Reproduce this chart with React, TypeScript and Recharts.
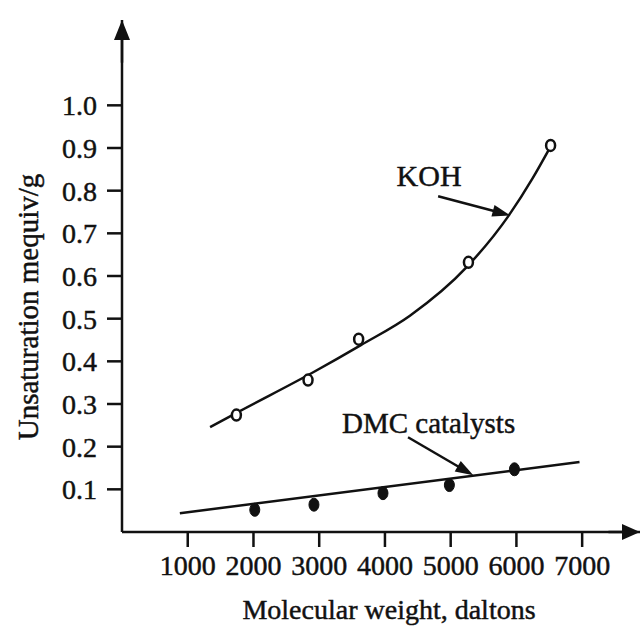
import React from 'react';
import { ComposedChart, Line, Scatter, XAxis, YAxis, ReferenceLine, ReferenceDot } from 'recharts';

// ---- data ----
const xTicks = [1000, 2000, 3000, 4000, 5000, 6000, 7000];
const yTicks = [0.1, 0.2, 0.3, 0.4, 0.5, 0.6, 0.7, 0.8, 0.9, 1.0];
const xAxisMax = 7880;
const yAxisMax = 1.2;

const kohCurveX = [1340, 1800, 2916, 3634, 4380, 5250, 5880, 6250, 6500];
const kohCurveY = [0.246, 0.284, 0.375, 0.438, 0.507, 0.622, 0.741, 0.83, 0.898];
const kohPointX = [1740, 2830, 3600, 5270, 6520];
const kohPointY = [0.274, 0.356, 0.452, 0.632, 0.906];

const dmcLineX = [880, 6960];
const dmcLineY = [0.044, 0.164];
const dmcPointX = [2020, 2920, 3970, 4980, 5970];
const dmcPointY = [0.052, 0.064, 0.091, 0.11, 0.147];

const kohLabel = { text: 'KOH', x: 4672, y: 0.81 };
const kohArrow = { x1: 4809, y1: 0.787, x2: 5908, y2: 0.742 };
const dmcLabel = { text: 'DMC catalysts', x: 4664, y: 0.232 };
const dmcArrow = { x1: 4351, y1: 0.222, x2: 5344, y2: 0.133 };

const xTitle = 'Molecular weight, daltons';
const yTitle = 'Unsaturation mequiv/g';

// ---- helpers ----
const zip = (xs: number[], ys: number[]) => xs.map((x, i) => ({ x, y: ys[i] }));
const kohCurve = zip(kohCurveX, kohCurveY);
const kohPoints = zip(kohPointX, kohPointY);
const dmcLine = zip(dmcLineX, dmcLineY);
const dmcPoints = zip(dmcPointX, dmcPointY);

const FONT = '"Liberation Serif", "Times New Roman", serif';
const INK = '#111';
const TEXT_STROKE = 0.45;

const arrowShape = (head: number, half: number, width: number) => (p: any) => {
  const { x1, y1, x2, y2 } = p;
  const dx = x2 - x1;
  const dy = y2 - y1;
  const len = Math.hypot(dx, dy) || 1;
  const ux = dx / len;
  const uy = dy / len;
  const bx = x2 - ux * head;
  const by = y2 - uy * head;
  const px = -uy * half;
  const py = ux * half;
  return (
    <g>
      <line x1={x1} y1={y1} x2={bx + ux * 2} y2={by + uy * 2} stroke={INK} strokeWidth={width} />
      <polygon points={`${x2},${y2} ${bx + px},${by + py} ${bx - px},${by - py}`} fill={INK} />
    </g>
  );
};

const openCircle = (p: any) => (
  <ellipse cx={p.cx} cy={p.cy} rx={4.5} ry={5.5} fill="#fff" stroke={INK} strokeWidth={2.5} />
);
const filledCircle = (p: any) => (
  <ellipse cx={p.cx} cy={p.cy} rx={5} ry={6.5} fill={INK} stroke={INK} strokeWidth={1} />
);

const textShape = (text: string, size: number) => (p: any) => (
  <text
    x={p.cx}
    y={p.cy}
    textAnchor="middle"
    fontFamily={FONT}
    fontSize={size}
    fill={INK}
    stroke={INK}
    strokeWidth={TEXT_STROKE}
  >
    {text}
  </text>
);

const YTitle = (props: any) => {
  const vb = props.viewBox || { x: 0, y: 0, width: 0, height: 0 };
  const cx = vb.x + 28;
  const cy = vb.y + vb.height / 2 + 31;
  return (
    <text
      x={cx}
      y={cy}
      transform={`rotate(-90, ${cx}, ${cy})`}
      textAnchor="middle"
      dominantBaseline="central"
      fontFamily={FONT}
      fontSize={29}
      fill={INK}
      stroke={INK}
      strokeWidth={TEXT_STROKE}
    >
      {yTitle}
    </text>
  );
};

const XTitle = (props: any) => {
  const vb = props.viewBox || { x: 0, y: 0, width: 0, height: 0 };
  const cx = vb.x + vb.width / 2 + 8;
  const cy = vb.y + vb.height - 7;
  return (
    <text
      x={cx}
      y={cy}
      textAnchor="middle"
      fontFamily={FONT}
      fontSize={28}
      fill={INK}
      stroke={INK}
      strokeWidth={TEXT_STROKE}
    >
      {xTitle}
    </text>
  );
};

const tickStyle = { fill: INK, fontFamily: FONT, fontSize: 28, stroke: INK, strokeWidth: TEXT_STROKE };

export default function App() {
  return (
    <div style={{ position: 'absolute', left: 0, top: 0, background: '#fff' }}>
      <ComposedChart width={641} height={626} margin={{ top: 20, right: 1, bottom: 0, left: 0 }}>
        <XAxis
          dataKey="x"
          type="number"
          domain={[0, xAxisMax]}
          ticks={xTicks}
          allowDataOverflow
          height={94}
          tickSize={15}
          tickMargin={8}
          axisLine={{ stroke: INK, strokeWidth: 2.5 }}
          tickLine={{ stroke: INK, strokeWidth: 2.5 }}
          tick={tickStyle}
          label={<XTitle />}
        />
        <YAxis
          dataKey="y"
          type="number"
          domain={[0, yAxisMax]}
          ticks={yTicks}
          allowDataOverflow
          width={122}
          tickSize={15}
          tickMargin={10}
          tickFormatter={(v: number) => v.toFixed(1)}
          axisLine={{ stroke: INK, strokeWidth: 2.5 }}
          tickLine={{ stroke: INK, strokeWidth: 2.5 }}
          tick={tickStyle}
          label={<YTitle />}
        />
        <ReferenceLine
          segment={[{ x: 0, y: 1.1 }, { x: 0, y: yAxisMax }]}
          ifOverflow="visible"
          shape={arrowShape(20, 8, 2.5)}
        />
        <ReferenceLine
          segment={[{ x: 7400, y: 0 }, { x: xAxisMax, y: 0 }]}
          ifOverflow="visible"
          shape={arrowShape(18, 8, 2.5)}
        />
        <Line
          data={kohCurve}
          dataKey="y"
          type="monotone"
          stroke={INK}
          strokeWidth={2.5}
          dot={false}
          activeDot={false}
          isAnimationActive={false}
        />
        <Line
          data={dmcLine}
          dataKey="y"
          type="linear"
          stroke={INK}
          strokeWidth={2.5}
          dot={false}
          activeDot={false}
          isAnimationActive={false}
        />
        <Scatter data={kohPoints} dataKey="y" shape={openCircle} isAnimationActive={false} />
        <Scatter data={dmcPoints} dataKey="y" shape={filledCircle} isAnimationActive={false} />
        <ReferenceLine
          segment={[{ x: kohArrow.x1, y: kohArrow.y1 }, { x: kohArrow.x2, y: kohArrow.y2 }]}
          ifOverflow="visible"
          shape={arrowShape(18, 6, 2.5)}
        />
        <ReferenceLine
          segment={[{ x: dmcArrow.x1, y: dmcArrow.y1 }, { x: dmcArrow.x2, y: dmcArrow.y2 }]}
          ifOverflow="visible"
          shape={arrowShape(18, 6, 2.5)}
        />
        <ReferenceDot x={kohLabel.x} y={kohLabel.y} ifOverflow="visible" shape={textShape(kohLabel.text, 30)} />
        <ReferenceDot x={dmcLabel.x} y={dmcLabel.y} ifOverflow="visible" shape={textShape(dmcLabel.text, 29)} />
      </ComposedChart>
    </div>
  );
}
